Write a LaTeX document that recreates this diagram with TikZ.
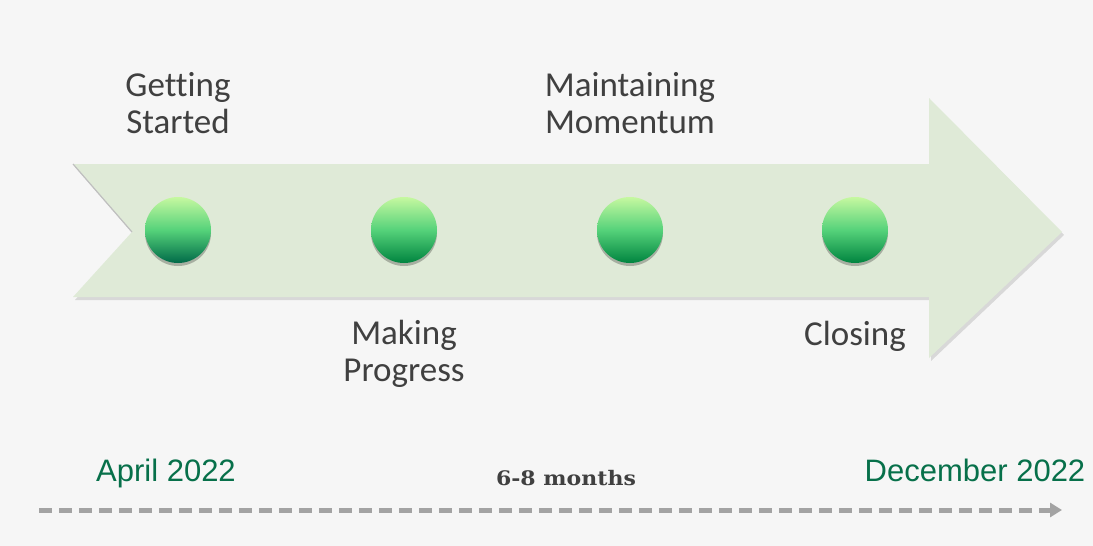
\documentclass[tikz,border=0pt]{standalone}
\usepackage{fontspec}
\setmainfont{Carlito}[Ligatures=NoCommon]
\newfontfamily\arialf{Liberation Sans}
\newfontfamily\slabf{DejaVu Serif}
\usetikzlibrary{arrows.meta,shadows}
\definecolor{bg}{HTML}{F6F6F6}
\definecolor{arrowfill}{HTML}{DFEAD7}
\definecolor{labelgrey}{HTML}{404040}
\definecolor{dategreen}{HTML}{07704A}
\definecolor{dashgrey}{HTML}{A3A3A3}
\definecolor{balltop}{HTML}{C6F8A0}
\definecolor{ballmid}{HTML}{55D27A}
\definecolor{ballbot}{HTML}{00843F}
\definecolor{ballbotdark}{HTML}{006A48}
\begin{document}
\begin{tikzpicture}[x=1pt,y=-1pt,
  stagelabel/.style={font=\fontsize{35}{37}\selectfont, text=labelgrey, align=center, inner sep=0pt, anchor=base},
  ball/.style={circle, minimum size=66pt, inner sep=0pt,
    top color=balltop, bottom color=#1, middle color=ballmid,
    drop shadow={shadow xshift=0pt, shadow yshift=-3pt, opacity=0.25, fill=black}},
  ball/.default=ballbot,
  datelabel/.style={font=\arialf\fontsize{31}{31}\selectfont, text=dategreen, inner sep=0pt, anchor=base},
  timeline/.style={line width=5pt, draw=dashgrey, dash pattern=on 13pt off 7pt, -{Triangle[length=12pt,width=14pt]}}
]
\useasboundingbox (0,0) rectangle (1093,546);
\fill[bg] (0,0) rectangle (1093,546);
% big arrow
\fill[black, opacity=0.12] (75,167) -- (931,167) -- (931,101) -- (1064,235) -- (931,361) -- (931,300) -- (75,300) -- (134,235) -- cycle;
\fill[arrowfill] (73,164) -- (929,164) -- (929,98) -- (1062,232) -- (929,358) -- (929,297) -- (73,297) -- (132,232) -- cycle;
\draw[black!25, line width=1.2pt] (73,164) -- (132,232);
% balls
\node[ball=ballbotdark] (b1) at (178,230) {};
\node[ball] (b2) at (404,230) {};
\node[ball] (b3) at (630,230) {};
\node[ball] (b4) at (855,230) {};
% labels (anchor = baseline of last line)
\node[stagelabel] (l1) at (178,133) {Getting\\Started};
\node[stagelabel] (l3) at (630,133) {Maintaining\\Momentum};
\node[stagelabel] (l2) at (404,381) {Making\\Progress};
\node[stagelabel] (l4) at (855,345) {Closing};
% timeline
\node[datelabel] (d1) at (166,481) {April 2022};
\node[datelabel] (d2) at (975,481) {December 2022};
\node[font=\slabf\bfseries\fontsize{20}{20}\selectfont, text=labelgrey, inner sep=0pt, anchor=base] (dur) at (566,485) {\scalebox{1.1}[1]{6-8 months}};
\coordinate (t0) at (39,510);
\coordinate (t1) at (1062,510);
\draw[timeline] (t0) -- (t1);
\end{tikzpicture}
\end{document}
